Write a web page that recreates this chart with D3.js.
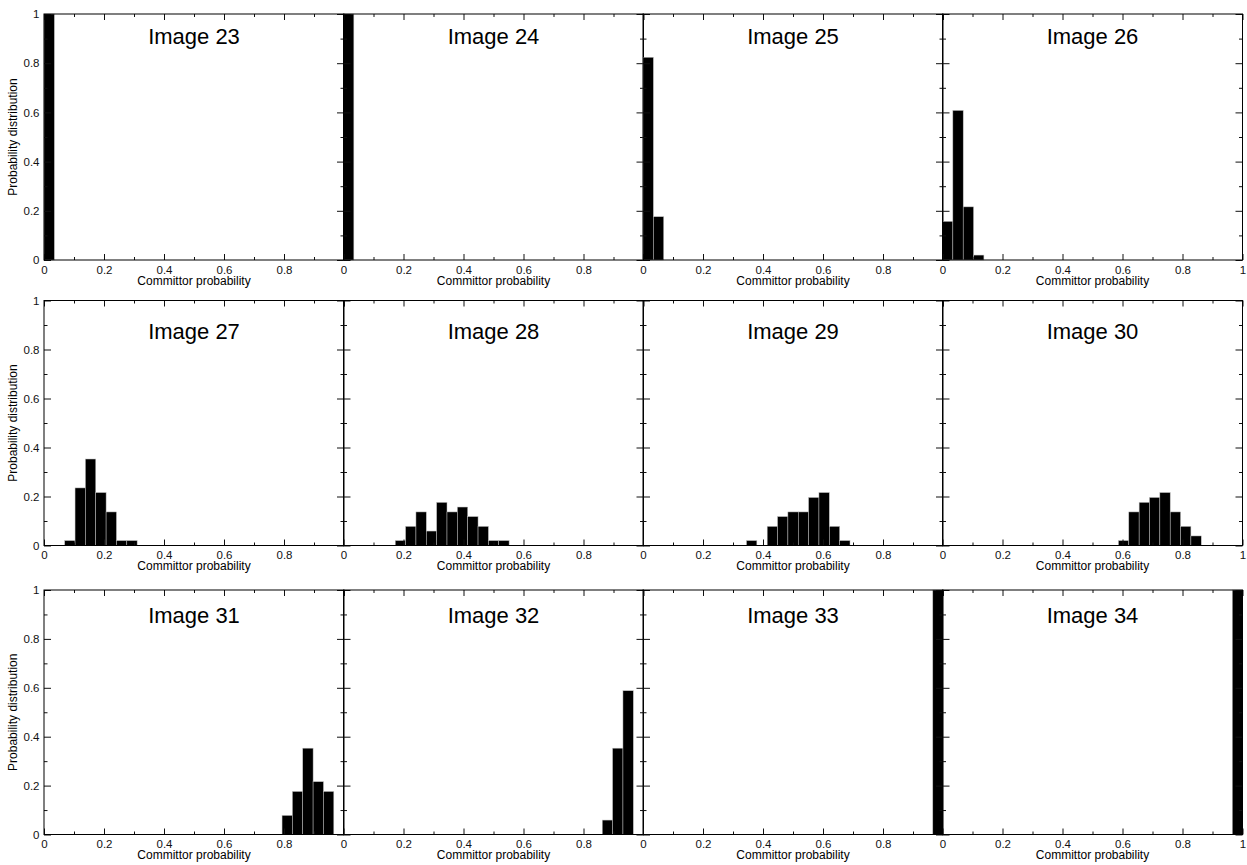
<!DOCTYPE html>
<html>
<head>
<meta charset="utf-8">
<script src="https://cdn.jsdelivr.net/npm/d3@7"></script>
<style>
  body { margin: 0; background: #fff; }
  svg { display: block; }
</style>
</head>
<body>
<svg id="chart" width="1247" height="865"></svg>
<script>
// committor histograms, one entry per image (bar heights are fractions of the shots)
const imageNumbers = [23, 24, 25, 26, 27, 28, 29, 30, 31, 32, 33, 34];
const binWidth = 0.0345;
const firstBin = [0, 0, 0, 0, 2, 5, 10, 17, 23, 25, 28, 28];
const binHeights = [
    [1.0],
    [1.0],
    [0.824, 0.176],
    [0.157, 0.608, 0.216, 0.020],
    [0.020, 0.235, 0.353, 0.216, 0.137, 0.020, 0.020],
    [0.020, 0.078, 0.137, 0.059, 0.176, 0.137, 0.157, 0.118, 0.078, 0.020, 0.020],
    [0.020, 0, 0.078, 0.118, 0.137, 0.137, 0.196, 0.216, 0.078, 0.020],
    [0.020, 0.137, 0.176, 0.196, 0.216, 0.137, 0.078, 0.039],
    [0.078, 0.176, 0.353, 0.216, 0.176],
    [0.059, 0.353, 0.588],
    [1.0],
    [1.0]
];
const xTickValues = [0, 0.2, 0.4, 0.6, 0.8, 1];
const xMinorValues = [0.1, 0.3, 0.5, 0.7, 0.9];
const yTickValues = [0, 0.2, 0.4, 0.6, 0.8, 1];
const yMinorValues = [0.1, 0.3, 0.5, 0.7, 0.9];
const xTitle = "Committor probability";
const yTitle = "Probability distribution";

const FONT = '"Liberation Sans", Arial, Helvetica, sans-serif';
const TICK_FONT = 11.5;
const colLeft = [44, 343.5, 643, 942.5];
const plotW = 300;
const rowTop = [14, 300.5, 590];
const rowH = [246, 245, 244.5];
const titleDy = [30, 38, 33];
const fmt = d3.format("~g");

const svg = d3.select("#chart");

function styleAxis(g) {
    g.attr("font-family", FONT)
        .attr("font-size", TICK_FONT)
        .style("color", "#111");
    g.select(".domain").remove();
}

imageNumbers.forEach((num, i) => {
    const row = Math.floor(i / 4), col = i % 4;
    const x = d3.scaleLinear().domain([0, 1])
        .range([colLeft[col], colLeft[col] + plotW]);
    const y = d3.scaleLinear().domain([0, 1])
        .range([rowTop[row] + rowH[row], rowTop[row]]);
    const g = svg.append("g");

    const bins = binHeights[i].map((v, k) => ({
        x0: (firstBin[i] + k) * binWidth,
        x1: (firstBin[i] + k + 1) * binWidth,
        v: v
    })).filter(d => d.v > 0);

    g.append("g")
        .selectAll("rect")
        .data(bins)
        .join("rect")
        .attr("x", d => x(d.x0))
        .attr("width", d => x(Math.min(1, d.x1)) - x(d.x0))
        .attr("y", d => y(d.v))
        .attr("height", d => y(0) - y(d.v))
        .attr("fill", "#000")
        .attr("stroke", "#bdbdbd")
        .attr("stroke-width", 0.5);

    // bottom axis with labels
    const xLabels = col == 3 ? xTickValues : xTickValues.slice(0, 5);
    g.append("g")
        .attr("transform", `translate(0,${y(0)})`)
        .call(d3.axisBottom(x).tickValues(xLabels).tickSizeInner(-6)
            .tickSizeOuter(0).tickPadding(5.5).tickFormat(fmt))
        .call(styleAxis);
    g.append("g")
        .attr("transform", `translate(0,${y(0)})`)
        .call(d3.axisBottom(x).tickValues(xMinorValues).tickSizeInner(-3)
            .tickSizeOuter(0).tickFormat(""))
        .call(styleAxis);

    // top axis, ticks only
    g.append("g")
        .attr("transform", `translate(0,${y(1)})`)
        .call(d3.axisTop(x).tickValues(xTickValues).tickSizeInner(-6)
            .tickSizeOuter(0).tickFormat(""))
        .call(styleAxis);
    g.append("g")
        .attr("transform", `translate(0,${y(1)})`)
        .call(d3.axisTop(x).tickValues(xMinorValues).tickSizeInner(-3)
            .tickSizeOuter(0).tickFormat(""))
        .call(styleAxis);

    // left axis, labels only on first column
    g.append("g")
        .attr("transform", `translate(${x(0)},0)`)
        .call(d3.axisLeft(y).tickValues(yTickValues).tickSizeInner(-7)
            .tickSizeOuter(0).tickPadding(4.5).tickFormat(col == 0 ? fmt : ""))
        .call(styleAxis);
    g.append("g")
        .attr("transform", `translate(${x(0)},0)`)
        .call(d3.axisLeft(y).tickValues(yMinorValues).tickSizeInner(-3.5)
            .tickSizeOuter(0).tickFormat(""))
        .call(styleAxis);

    // right axis
    g.append("g")
        .attr("transform", `translate(${x(1)},0)`)
        .call(d3.axisRight(y).tickValues(yTickValues).tickSizeInner(-7)
            .tickSizeOuter(0).tickFormat(""))
        .call(styleAxis);
    g.append("g")
        .attr("transform", `translate(${x(1)},0)`)
        .call(d3.axisRight(y).tickValues(yMinorValues).tickSizeInner(-3.5)
            .tickSizeOuter(0).tickFormat(""))
        .call(styleAxis);

    g.append("rect")
        .attr("x", x(0))
        .attr("y", y(1))
        .attr("width", x(1) - x(0))
        .attr("height", y(0) - y(1))
        .attr("fill", "none")
        .attr("stroke", "#000")
        .attr("stroke-width", 1);

    g.append("text")
        .attr("font-family", FONT)
        .attr("font-size", 22)
        .attr("text-anchor", "middle")
        .attr("x", (x(0) + x(1)) / 2)
        .attr("y", rowTop[row] + titleDy[row])
        .text("Image " + num);

    g.append("text")
        .attr("font-family", FONT)
        .attr("font-size", 12)
        .attr("text-anchor", "middle")
        .attr("x", (x(0) + x(1)) / 2)
        .attr("y", y(0) + 24.5)
        .text(xTitle);

    if (col == 0) {
        g.append("text")
            .attr("font-family", FONT)
            .attr("font-size", 12)
            .attr("text-anchor", "middle")
            .attr("transform", `translate(17,${(y(0) + y(1)) / 2}) rotate(-90)`)
            .text(yTitle);
    }
});
</script>
</body>
</html>
